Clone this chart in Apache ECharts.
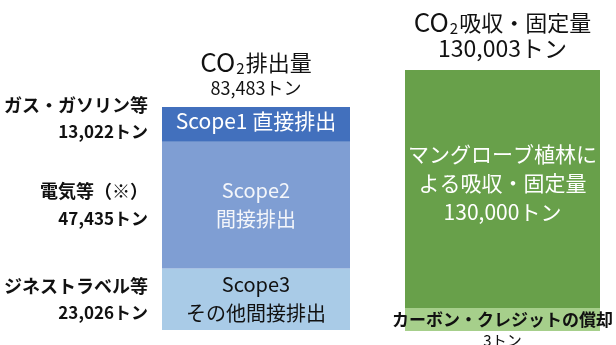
<!DOCTYPE html>
<html>
<head>
<meta charset="utf-8">
<script src="https://cdn.jsdelivr.net/npm/echarts@6/dist/echarts.min.js"></script>
<style>
html,body{margin:0;padding:0;background:#fff;}
#main{width:616px;height:345px;}
</style>
</head>
<body>
<div id="main"></div>
<script>
// ---- data ----
const emissionTitle = 'CO2排出量';
const absorptionTitle = 'CO2吸収・固定量';
// stacked bottom -> top
const scopeLabels = ['Scope3\nその他間接排出', 'Scope2\n間接排出', 'Scope1 直接排出'];
const sourceLabels = ['ジネストラベル等', '電気等（※）', 'ガス・ガソリン等'];
const emissionValues = [23026, 47435, 13022];
const absorptionLabels = ['カーボン・クレジットの償却', 'マングローブ植林に\nよる吸収・固定量'];
const absorptionValues = [3, 130000];

const scopeColors = ['#A9CBE7', '#7F9ED3', '#4270BD'];
const scopeTextColors = ['#111111', '#F4F6FA', '#FFFFFF'];
const absorptionColors = ['#A6CF8B', '#68A04A'];

const FONT = '"Noto Sans CJK JP", "Noto Sans", sans-serif';
const fmt = v => v.toLocaleString('en-US') + 'トン';
const sum = a => a.reduce((s, v) => s + v, 0);
const emissionTotal = sum(emissionValues);
const absorptionTotal = sum(absorptionValues);

function titleRich(title, total, big) {
  const head = title.slice(0, 2), sub = title.slice(2, 3), rest = title.slice(3);
  return {
    text: '{co|' + head + '}{sub|' + sub + '}{jp|' + rest + '}\n{num|' + fmt(total) + '}',
    rich: {
      co: { fontSize: big ? 26 : 26, fontFamily: FONT, color: '#111', lineHeight: 27 },
      sub: { fontSize: 15, fontFamily: FONT, color: '#111', lineHeight: 15, verticalAlign: 'bottom', padding: [0, 1, 0, 1] },
      jp: { fontSize: 22, fontFamily: FONT, color: '#111', lineHeight: 27 },
      num: { fontSize: big ? 23 : 18, fontFamily: FONT, color: '#111', lineHeight: big ? 25 : 24 }
    }
  };
}
const leftTitle = titleRich(emissionTitle, emissionTotal, false);
const rightTitle = titleRich(absorptionTitle, absorptionTotal, true);

const series = [];
emissionValues.forEach((v, i) => {
  series.push({
    type: 'bar', stack: 'scope', xAxisIndex: 0, yAxisIndex: 0,
    barWidth: '100%', barGap: '-100%',
    data: [v],
    itemStyle: { color: scopeColors[i] },
    label: {
      show: true, position: 'inside',
      formatter: scopeLabels[i],
      fontFamily: FONT, fontSize: i === 2 ? 21 : 20, lineHeight: 29,
      color: scopeTextColors[i],
      offset: i === 2 ? [0, -3] : [0, 0]
    },
    emphasis: { disabled: true }, silent: true
  });
});
emissionValues.forEach((v, i) => {
  series.push({
    type: 'bar', stack: 'source', xAxisIndex: 0, yAxisIndex: 0,
    barWidth: '100%', barGap: '-100%',
    data: [v],
    itemStyle: { color: 'rgba(0,0,0,0)' },
    label: {
      show: true, position: 'left', distance: 14,
      formatter: '{n|' + sourceLabels[i] + '}\n{v|' + fmt(v) + '}',
      offset: i === 2 ? [0, -6] : [0, 0],
      rich: {
        n: { fontFamily: FONT, fontSize: 18, fontWeight: 'bold', color: '#111', lineHeight: 27, align: 'right' },
        v: { fontFamily: FONT, fontSize: 17, fontWeight: 'bold', color: '#111', lineHeight: 27, align: 'right' }
      }
    },
    emphasis: { disabled: true }, silent: true
  });
});
absorptionValues.forEach((v, i) => {
  const isCredit = i === 0;
  series.push({
    type: 'bar', stack: 'absorb', xAxisIndex: 1, yAxisIndex: 1,
    barWidth: '100%', barGap: '-100%',
    barMinHeight: isCredit ? 23 : 0,
    z: isCredit ? 5 : 2,
    data: [v],
    itemStyle: { color: absorptionColors[i] },
    label: isCredit ? {
      show: true, position: 'inside', offset: [0, 10],
      formatter: '{n|' + absorptionLabels[i] + '}\n{v|' + fmt(v) + '}',
      rich: {
        n: { fontFamily: FONT, fontSize: 17, fontWeight: 'bold', color: '#111', lineHeight: 21 },
        v: { fontFamily: FONT, fontSize: 15, color: '#111', lineHeight: 19 }
      }
    } : {
      show: true, position: 'inside', offset: [0, -17],
      formatter: absorptionLabels[i] + '\n' + fmt(v),
      fontFamily: FONT, fontSize: 21, lineHeight: 29, color: '#FFFFFF'
    },
    emphasis: { disabled: true }, silent: true
  });
});

const chart = echarts.init(document.getElementById('main'), null, { renderer: 'canvas' });
chart.setOption({
  animation: false,
  backgroundColor: '#ffffff',
  grid: [
    { left: 162, top: 107, width: 188, height: 223 },
    { left: 405, top: 70, width: 195, height: 261 }
  ],
  xAxis: [
    { type: 'category', gridIndex: 0, position: 'top', data: [emissionTitle],
      axisLine: { show: false }, axisTick: { show: false },
      axisLabel: { margin: 7, formatter: () => leftTitle.text, rich: leftTitle.rich } },
    { type: 'category', gridIndex: 1, position: 'top', data: [absorptionTitle],
      axisLine: { show: false }, axisTick: { show: false },
      axisLabel: { margin: 9, formatter: () => rightTitle.text, rich: rightTitle.rich } }
  ],
  yAxis: [
    { type: 'value', gridIndex: 0, min: 0, max: emissionTotal, show: false },
    { type: 'value', gridIndex: 1, min: 0, max: absorptionTotal, show: false }
  ],
  series: series
});
</script>
</body>
</html>
